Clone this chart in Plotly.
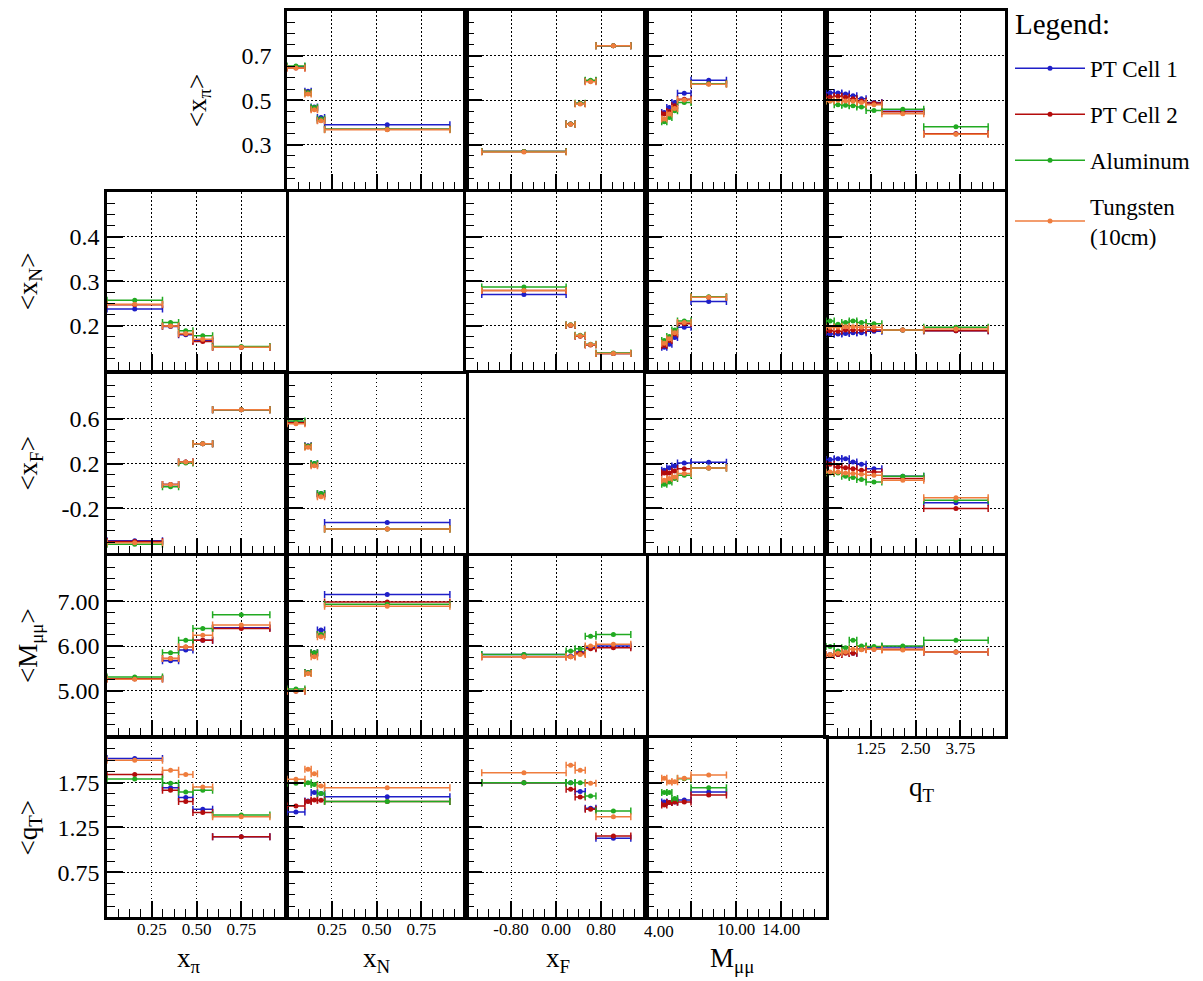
import plotly.graph_objects as go

# ---------------- data ----------------
series_names = ["PT Cell 1", "PT Cell 2", "Aluminum", "Tungsten<br>(10cm)"]
series_colors = ["#1f1fc8", "#b40c0c", "#22aa22", "#ef7d3e"]

# bin edges of each binning variable (x-axis of each column)
xpi_edges = [0.0, 0.31, 0.40, 0.48, 0.59, 0.91]
xN_edges = [0.0, 0.10, 0.135, 0.17, 0.21, 0.91]
xF_edges = [-1.32, 0.18, 0.34, 0.52, 0.71, 1.33]
M_edges = [3.4, 3.85, 4.3, 4.8, 6.0, 9.15]
qT_edges = [0.0, 0.23, 0.44, 0.65, 0.86, 1.12, 1.56, 2.73, 4.53]

# <x_pi> in bins of ...   order: PT Cell 1, PT Cell 2, Aluminum, Tungsten
avg_xpi_vs_xN = [[0.650, 0.540, 0.470, 0.423, 0.390],
                 [0.645, 0.534, 0.462, 0.410, 0.370],
                 [0.653, 0.534, 0.467, 0.416, 0.370],
                 [0.645, 0.528, 0.457, 0.408, 0.368]]
avg_xpi_vs_xF = [[0.270, 0.393, 0.485, 0.586, 0.744],
                 [0.270, 0.393, 0.485, 0.586, 0.744],
                 [0.270, 0.393, 0.487, 0.589, 0.744],
                 [0.268, 0.392, 0.483, 0.583, 0.744]]
avg_xpi_vs_M = [[0.445, 0.467, 0.490, 0.531, 0.589],
                [0.438, 0.450, 0.475, 0.504, 0.574],
                [0.404, 0.423, 0.453, 0.490, 0.574],
                [0.416, 0.438, 0.463, 0.501, 0.572]]
avg_xpi_vs_qT = [[0.534, 0.532, 0.528, 0.520, 0.507, 0.490, 0.451, 0.350],
                 [0.515, 0.518, 0.513, 0.507, 0.497, 0.488, 0.448, 0.350],
                 [0.497, 0.480, 0.477, 0.475, 0.470, 0.454, 0.460, 0.381],
                 [0.497, 0.500, 0.497, 0.495, 0.490, 0.480, 0.439, 0.348]]

# <x_N>
avg_xN_vs_xpi = [[0.237, 0.198, 0.179, 0.167, 0.151],
                 [0.247, 0.199, 0.181, 0.164, 0.151],
                 [0.257, 0.207, 0.188, 0.177, 0.153],
                 [0.248, 0.199, 0.182, 0.169, 0.151]]
avg_xN_vs_xF = [[0.270, 0.201, 0.177, 0.157, 0.137],
                [0.279, 0.200, 0.176, 0.156, 0.137],
                [0.287, 0.202, 0.178, 0.158, 0.138],
                [0.279, 0.201, 0.177, 0.157, 0.137]]
avg_xN_vs_M = [[0.151, 0.158, 0.173, 0.196, 0.254],
               [0.155, 0.166, 0.181, 0.204, 0.264],
               [0.166, 0.175, 0.190, 0.210, 0.265],
               [0.160, 0.170, 0.184, 0.207, 0.264]]
avg_xN_vs_qT = [[0.181, 0.181, 0.182, 0.184, 0.184, 0.187, 0.190, 0.188],
                [0.188, 0.187, 0.190, 0.190, 0.190, 0.190, 0.190, 0.188],
                [0.210, 0.203, 0.207, 0.210, 0.207, 0.204, 0.190, 0.196],
                [0.196, 0.196, 0.197, 0.197, 0.196, 0.196, 0.190, 0.192]]

# <x_F>
avg_xF_vs_xpi = [[-0.487, 0.013, 0.215, 0.378, 0.680],
                 [-0.495, 0.013, 0.215, 0.378, 0.680],
                 [-0.520, -0.007, 0.206, 0.378, 0.680],
                 [-0.505, 0.013, 0.215, 0.378, 0.680]]
avg_xF_vs_xN = [[0.570, 0.360, 0.200, -0.067, -0.324],
                [0.565, 0.354, 0.190, -0.080, -0.384],
                [0.579, 0.354, 0.200, -0.067, -0.384],
                [0.556, 0.345, 0.182, -0.096, -0.384]]
avg_xF_vs_M = [[0.140, 0.164, 0.179, 0.206, 0.212],
               [0.117, 0.117, 0.135, 0.155, 0.160],
               [0.016, 0.037, 0.067, 0.096, 0.160],
               [0.052, 0.067, 0.081, 0.111, 0.162]]
avg_xF_vs_qT = [[0.236, 0.244, 0.244, 0.215, 0.194, 0.155, 0.087, -0.150],
                [0.194, 0.170, 0.164, 0.155, 0.141, 0.126, 0.067, -0.200],
                [0.117, 0.117, 0.087, 0.076, 0.058, 0.037, 0.087, -0.126],
                [0.126, 0.126, 0.117, 0.111, 0.105, 0.096, 0.052, -0.105]]

# <M_mumu>
avg_M_vs_xpi = [[5.27, 5.67, 5.91, 6.13, 6.41],
                [5.27, 5.72, 5.98, 6.13, 6.39],
                [5.31, 5.85, 6.13, 6.39, 6.70],
                [5.26, 5.72, 5.98, 6.24, 6.47]]
avg_M_vs_xN = [[5.00, 5.41, 5.85, 6.36, 7.15],
               [5.00, 5.40, 5.84, 6.26, 6.98],
               [5.04, 5.41, 5.85, 6.26, 6.93],
               [4.99, 5.39, 5.76, 6.21, 6.89]]
avg_M_vs_xF = [[5.81, 5.78, 5.87, 5.96, 6.00],
               [5.76, 5.76, 5.84, 5.94, 5.96],
               [5.81, 5.89, 5.94, 6.22, 6.26],
               [5.76, 5.76, 5.81, 6.00, 6.04]]
avg_M_vs_qT = [[5.81, 5.81, 5.86, 5.84, 5.93, 5.96, 5.98, 5.87],
               [5.79, 5.81, 5.84, 5.84, 5.93, 5.93, 5.93, 5.87],
               [5.99, 5.89, 5.96, 6.13, 6.00, 5.99, 6.00, 6.13],
               [5.81, 5.84, 5.87, 5.93, 5.92, 5.93, 5.91, 5.87]]

# <q_T>
avg_qT_vs_xpi = [[2.02, 1.694, 1.583, 1.454, 1.146],
                 [1.84, 1.665, 1.539, 1.417, 1.146],
                 [1.79, 1.743, 1.646, 1.665, 1.390],
                 [2.00, 1.887, 1.840, 1.700, 1.369]]
avg_qT_vs_xN = [[1.424, 1.546, 1.640, 1.628, 1.594],
                [1.490, 1.539, 1.557, 1.554, 1.539],
                [1.743, 1.750, 1.730, 1.628, 1.539],
                [1.787, 1.898, 1.850, 1.713, 1.694]]
avg_qT_vs_xF = [[1.750, 1.750, 1.650, 1.465, 1.131],
                [1.750, 1.676, 1.591, 1.454, 1.154],
                [1.750, 1.750, 1.750, 1.602, 1.435],
                [1.861, 1.943, 1.887, 1.743, 1.369]]
avg_qT_vs_M = [[1.535, 1.528, 1.535, 1.557, 1.646],
               [1.502, 1.528, 1.535, 1.535, 1.613],
               [1.639, 1.639, 1.572, 1.794, 1.694],
               [1.798, 1.757, 1.761, 1.798, 1.835]]

# ---------------- layout helpers ----------------
variables = ["xpi", "xN", "xF", "M", "qT"]
edges = {"xpi": xpi_edges, "xN": xN_edges, "xF": xF_edges, "M": M_edges, "qT": qT_edges}

panel_data = {
    (0, 1): avg_xpi_vs_xN, (0, 2): avg_xpi_vs_xF, (0, 3): avg_xpi_vs_M, (0, 4): avg_xpi_vs_qT,
    (1, 0): avg_xN_vs_xpi, (1, 2): avg_xN_vs_xF, (1, 3): avg_xN_vs_M, (1, 4): avg_xN_vs_qT,
    (2, 0): avg_xF_vs_xpi, (2, 1): avg_xF_vs_xN, (2, 3): avg_xF_vs_M, (2, 4): avg_xF_vs_qT,
    (3, 0): avg_M_vs_xpi, (3, 1): avg_M_vs_xN, (3, 2): avg_M_vs_xF, (3, 4): avg_M_vs_qT,
    (4, 0): avg_qT_vs_xpi, (4, 1): avg_qT_vs_xN, (4, 2): avg_qT_vs_xF, (4, 3): avg_qT_vs_M,
}

x_cfg = {
    "xpi": dict(range=[0, 1], tickvals=[0.25, 0.5, 0.75], ticktext=["0.25", "0.50", "0.75"], minor=0.0625),
    "xN": dict(range=[0, 1], tickvals=[0.25, 0.5, 0.75], ticktext=["0.25", "0.50", "0.75"], minor=0.0625),
    "xF": dict(range=[-1.6, 1.6], tickvals=[-0.8, 0, 0.8], ticktext=["-0.80", "0.00", "0.80"], minor=0.2),
    "M": dict(range=[2, 18], tickvals=[6, 10, 14], ticktext=[" ", "10.00", "14.00"], minor=1),
    "qT": dict(range=[0, 5], tickvals=[1.25, 2.5, 3.75], ticktext=["1.25", "2.50", "3.75"], minor=0.3125),
}
y_cfg = {
    "xpi": dict(range=[0.1, 0.9], tickvals=[0.3, 0.5, 0.7], ticktext=["0.3", "0.5", "0.7"], minor=0.05),
    "xN": dict(range=[0.1, 0.5], tickvals=[0.2, 0.3, 0.4], ticktext=["0.2", "0.3", "0.4"], minor=0.025),
    "xF": dict(range=[-0.6, 1.0], tickvals=[-0.2, 0.2, 0.6], ticktext=["-0.2", "0.2", "0.6"], minor=0.1),
    "M": dict(range=[4, 8], tickvals=[5, 6, 7], ticktext=["5.00", "6.00", "7.00"], minor=0.25),
    "qT": dict(range=[0.25, 2.25], tickvals=[0.75, 1.25, 1.75], ticktext=["0.75", "1.25", "1.75"], minor=0.125),
}

y_titles = ["&lt;x<sub>π</sub>&gt;", "&lt;x<sub>N</sub>&gt;", "&lt;x<sub>F</sub>&gt;",
            "&lt;M<sub>μμ</sub>&gt;", "&lt;q<sub>T</sub>&gt;"]
x_titles = ["x<sub>π</sub>", "x<sub>N</sub>", "x<sub>F</sub>", "M<sub>μμ</sub>", "q<sub>T</sub>"]

W, H = 1203, 981
OFF = 8  # page body margin of the html page
col_px = [(107, 286), (287, 466), (466, 646), (646, 826), (826, 1005)]
row_px = [(8, 187), (190, 368), (372, 552), (555, 735), (737, 917)]


def px(v):
    return min(1.0, max(0.0, (v - OFF) / W))


def py(v):
    return min(1.0, max(0.0, 1 - (v - OFF) / H))


FONT = "Liberation Serif"

fig = go.Figure()
layout_axes = {}
n = 0
for (r, c), vals in panel_data.items():
    n += 1
    xname = "xaxis" if n == 1 else f"xaxis{n}"
    yname = "yaxis" if n == 1 else f"yaxis{n}"
    xref = "x" if n == 1 else f"x{n}"
    yref = "y" if n == 1 else f"y{n}"
    xv, yv = variables[c], variables[r]
    xc, yc = x_cfg[xv], y_cfg[yv]
    show_xlab = (r == 4) or (r == 3 and c == 4)
    show_ylab = (c == 0) or (r == 0 and c == 1)
    common = dict(
        showline=True, mirror=True, linecolor="black", linewidth=2.5,
        showgrid=True, gridcolor="black", griddash="1.5px,2.5px", gridwidth=1.4,
        zeroline=False, ticks="inside", ticklen=16, tickwidth=1.5, tickcolor="black",
        tickmode="array",
    )
    layout_axes[xname] = dict(
        common, domain=[px(col_px[c][0]), px(col_px[c][1])], anchor=yref,
        range=xc["range"], tickvals=xc["tickvals"], ticktext=xc["ticktext"],
        showticklabels=show_xlab, tickfont=dict(family=FONT, size=17, color="black"),
        ticklabelstandoff=-5,
        minor=dict(ticks="inside", ticklen=8, tickwidth=1.2, tickcolor="black",
                   dtick=xc["minor"], tick0=xc["range"][0], showgrid=False),
    )
    layout_axes[yname] = dict(
        common, domain=[py(row_px[r][1]), py(row_px[r][0])], anchor=xref,
        range=yc["range"], tickvals=yc["tickvals"], ticktext=yc["ticktext"],
        showticklabels=show_ylab, tickfont=dict(family=FONT, size=24, color="black"),
        ticklabelstandoff=(8 if r == 0 else 0),
        minor=dict(ticks="inside", ticklen=8, tickwidth=1.2, tickcolor="black",
                   dtick=yc["minor"], tick0=yc["range"][0], showgrid=False),
    )
    e = edges[xv]
    centers = [(e[i] + e[i + 1]) / 2 for i in range(len(e) - 1)]
    halfw = [(e[i + 1] - e[i]) / 2 for i in range(len(e) - 1)]
    for s in range(4):
        fig.add_trace(go.Scatter(
            x=centers, y=vals[s], mode="markers", xaxis=xref, yaxis=yref,
            marker=dict(color=series_colors[s], size=5),
            error_x=dict(type="data", array=halfw, color=series_colors[s], thickness=1.5, width=3.5),
            showlegend=False, hoverinfo="x+y",
        ))

# legend entries
for s in range(4):
    fig.add_trace(go.Scatter(
        x=[None], y=[None], mode="lines+markers", name=series_names[s],
        legendgroup=f"g{s}", line=dict(color=series_colors[s], width=1.5),
        marker=dict(color=series_colors[s], size=5),
    ))

annotations = []
ytitle_x = [199, 30, 30, 30, 30]
for r in range(5):
    annotations.append(dict(
        text=y_titles[r], x=px(ytitle_x[r]), y=py((row_px[r][0] + row_px[r][1]) / 2),
        xref="paper", yref="paper", showarrow=False, textangle=-90,
        xanchor="center", yanchor="middle", font=dict(family=FONT, size=27, color="black"),
    ))
xtitle_shift = [-8, 0, 2, -4]
for c in range(4):
    annotations.append(dict(
        text=x_titles[c], x=px((col_px[c][0] + col_px[c][1]) / 2 + xtitle_shift[c]), y=py(960),
        xref="paper", yref="paper", showarrow=False, xanchor="center", yanchor="middle",
        font=dict(family=FONT, size=27, color="black"),
    ))
annotations.append(dict(
    text=x_titles[4], x=px(922), y=py(788), xref="paper", yref="paper",
    showarrow=False, xanchor="center", yanchor="middle",
    font=dict(family=FONT, size=27, color="black"),
))
# stray mass label at the low edge of the M axis
annotations.append(dict(
    text="4.00", x=px(659), y=py(931), xref="paper", yref="paper",
    showarrow=False, xanchor="center", yanchor="middle",
    font=dict(family=FONT, size=17, color="black"),
))
# legend heading
annotations.append(dict(
    text="Legend:", x=px(1013), y=py(21), xref="paper", yref="paper",
    showarrow=False, xanchor="left", yanchor="middle",
    font=dict(family=FONT, size=29, color="black"),
))

fig.update_layout(
    width=W, height=H, margin=dict(l=0, r=0, t=0, b=0),
    paper_bgcolor="white", plot_bgcolor="white",
    font=dict(family=FONT, color="black"),
    annotations=annotations,
    legend=dict(
        x=px(1010), y=py(44), xanchor="left", yanchor="top",
        font=dict(family=FONT, size=23, color="black"),
        tracegroupgap=13, itemwidth=70, bgcolor="rgba(0,0,0,0)",
    ),
    **layout_axes,
)

fig.write_html("out.html")
